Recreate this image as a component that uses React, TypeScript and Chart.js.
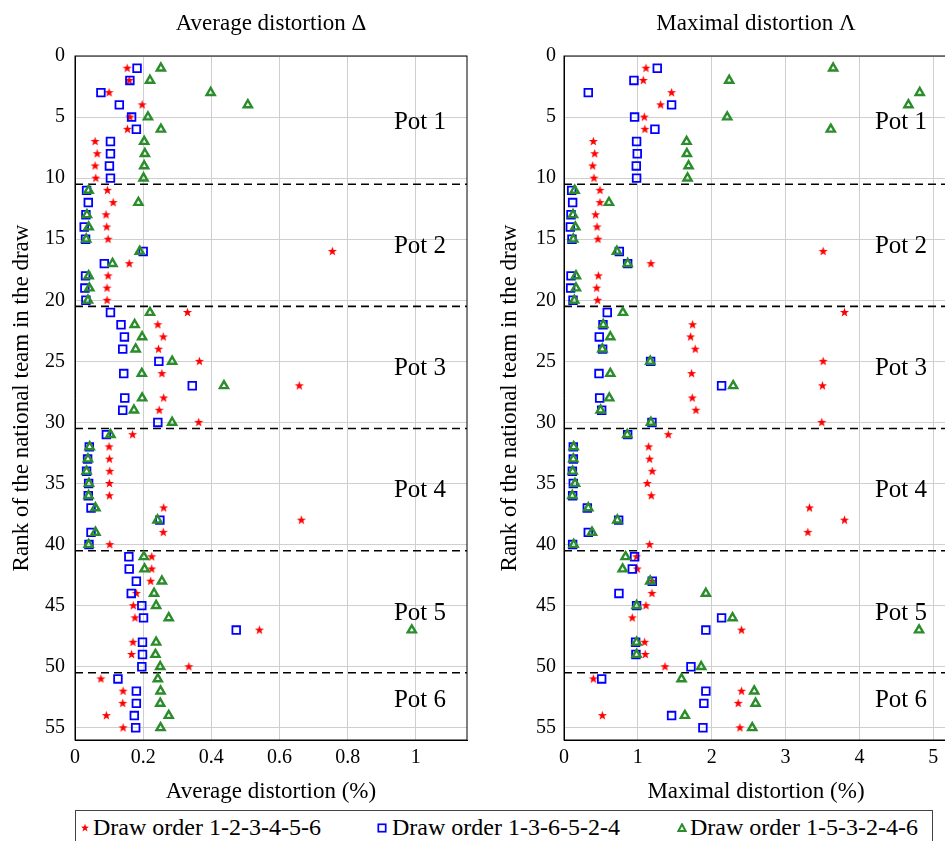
import React, { useEffect, useRef } from 'react';
import { Chart, registerables } from 'chart.js';

Chart.register(...registerables);

// ---------- data ----------
const ranks = [
  1, 2, 3, 4, 5, 6, 7, 8, 9, 10, 11, 12, 13, 14, 15, 16, 17, 18, 19, 20,
  21, 22, 23, 24, 25, 26, 27, 28, 29, 30, 31, 32, 33, 34, 35, 36, 37, 38, 39, 40,
  41, 42, 43, 44, 45, 46, 47, 48, 49, 50, 51, 52, 53, 54, 55,
];

const seriesLabels = ['Draw order 1-2-3-4-5-6', 'Draw order 1-3-6-5-2-4', 'Draw order 1-5-3-2-4-6'];

// Average distortion (%)
const avgOrder123456 = [
  0.153, 0.159, 0.100, 0.197, 0.161, 0.154, 0.059, 0.065, 0.059, 0.061,
  0.095, 0.112, 0.091, 0.093, 0.097, 0.755, 0.159, 0.097, 0.094, 0.094,
  0.330, 0.243, 0.259, 0.245, 0.365, 0.255, 0.658, 0.260, 0.247, 0.363,
  0.169, 0.100, 0.101, 0.102, 0.101, 0.101, 0.260, 0.664, 0.259, 0.102,
  0.225, 0.225, 0.222, 0.180, 0.171, 0.176, 0.541, 0.170, 0.166, 0.334,
  0.076, 0.141, 0.140, 0.092, 0.141,
];
const avgOrder136524 = [
  0.182, 0.161, 0.076, 0.130, 0.166, 0.180, 0.104, 0.104, 0.101, 0.104,
  0.034, 0.039, 0.032, 0.027, 0.031, 0.200, 0.086, 0.031, 0.029, 0.032,
  0.104, 0.135, 0.145, 0.140, 0.246, 0.143, 0.344, 0.146, 0.140, 0.243,
  0.092, 0.042, 0.037, 0.034, 0.040, 0.039, 0.047, 0.249, 0.047, 0.041,
  0.158, 0.159, 0.180, 0.165, 0.196, 0.201, 0.473, 0.198, 0.198, 0.196,
  0.126, 0.180, 0.180, 0.174, 0.178,
];
const avgOrder153246 = [
  0.252, 0.220, 0.398, 0.507, 0.214, 0.252, 0.203, 0.205, 0.203, 0.201,
  0.040, 0.186, 0.035, 0.040, 0.033, 0.190, 0.110, 0.040, 0.042, 0.038,
  0.220, 0.175, 0.197, 0.178, 0.285, 0.196, 0.437, 0.197, 0.173, 0.285,
  0.104, 0.043, 0.038, 0.034, 0.041, 0.040, 0.060, 0.242, 0.060, 0.040,
  0.202, 0.204, 0.255, 0.232, 0.238, 0.275, 0.988, 0.238, 0.236, 0.250,
  0.243, 0.251, 0.250, 0.275, 0.251,
];

// Maximal distortion (%)
const maxOrder123456 = [
  1.110, 1.074, 1.457, 1.308, 1.087, 1.096, 0.397, 0.415, 0.388, 0.406,
  0.487, 0.487, 0.428, 0.447, 0.460, 3.509, 1.177, 0.465, 0.442, 0.456,
  3.798, 1.741, 1.714, 1.777, 3.509, 1.728, 3.500, 1.737, 1.786, 3.491,
  1.412, 1.146, 1.159, 1.195, 1.128, 1.182, 3.324, 3.798, 3.302, 1.159,
  0.983, 0.992, 1.195, 1.191, 1.110, 0.925, 2.404, 1.092, 1.101, 1.367,
  0.397, 2.404, 2.359, 0.519, 2.382,
];
const maxOrder136524 = [
  1.263, 0.947, 0.329, 1.457, 0.956, 1.231, 0.983, 0.992, 0.979, 0.983,
  0.104, 0.117, 0.095, 0.086, 0.108, 0.749, 0.862, 0.095, 0.090, 0.122,
  0.586, 0.528, 0.478, 0.523, 1.173, 0.474, 2.134, 0.483, 0.510, 1.191,
  0.862, 0.126, 0.126, 0.113, 0.126, 0.117, 0.316, 0.740, 0.329, 0.117,
  0.956, 0.925, 1.195, 0.744, 0.983, 2.134, 1.921, 0.970, 0.974, 1.719,
  0.510, 1.921, 1.894, 1.457, 1.881,
];
const maxOrder153246 = [
  3.645, 2.237, 4.817, 4.664, 2.210, 3.613, 1.660, 1.664, 1.687, 1.673,
  0.144, 0.609, 0.122, 0.153, 0.126, 0.717, 0.862, 0.162, 0.162, 0.140,
  0.798, 0.532, 0.627, 0.519, 1.168, 0.627, 2.291, 0.613, 0.496, 1.177,
  0.857, 0.131, 0.126, 0.117, 0.149, 0.113, 0.329, 0.722, 0.379, 0.131,
  0.834, 0.794, 1.168, 1.921, 0.983, 2.282, 4.808, 0.983, 0.983, 1.858,
  1.592, 2.576, 2.594, 1.637, 2.549,
];

const potLabels = ['Pot 1', 'Pot 2', 'Pot 3', 'Pot 4', 'Pot 5', 'Pot 6'];
const potLabelRanks = [5.4, 15.6, 25.6, 35.6, 45.6, 52.8];
const potBoundaries = [10.5, 20.5, 30.5, 40.5, 50.5];

// ---------- styles ----------
const FONT = "'Liberation Serif', 'Times New Roman', serif";
const RED = '#ff0000';
const BLUE = '#0000ff';
const GREEN = '#2a8c2a';
const GRID = '#cfcfcf';

function makeStar(): HTMLCanvasElement {
  const c = document.createElement('canvas');
  c.width = 11;
  c.height = 11;
  const ctx = c.getContext('2d')!;
  ctx.fillStyle = RED;
  ctx.beginPath();
  for (let i = 0; i < 10; i++) {
    const r = i % 2 === 0 ? 4.8 : 2.0;
    const a = -Math.PI / 2 + (i * Math.PI) / 5;
    const px = 5.5 + r * Math.cos(a);
    const py = 5.5 + r * Math.sin(a);
    if (i === 0) ctx.moveTo(px, py);
    else ctx.lineTo(px, py);
  }
  ctx.closePath();
  ctx.fill();
  return c;
}

const potPlugin = {
  id: 'pots',
  beforeDatasetsDraw(chart: any) {
    const { ctx, chartArea: a, scales } = chart;
    const y = scales.y;
    ctx.save();
    ctx.strokeStyle = '#000';
    ctx.lineWidth = 1.6;
    ctx.setLineDash([8, 5]);
    potBoundaries.forEach((v) => {
      const py = y.getPixelForValue(v);
      ctx.beginPath();
      ctx.moveTo(a.left, py);
      ctx.lineTo(a.right, py);
      ctx.stroke();
    });
    ctx.setLineDash([]);
    ctx.font = `25px ${FONT}`;
    ctx.fillStyle = '#000';
    ctx.textAlign = 'right';
    ctx.textBaseline = 'middle';
    potLabels.forEach((t, i) => ctx.fillText(t, a.right - 21, y.getPixelForValue(potLabelRanks[i])));
    ctx.strokeStyle = '#000';
    ctx.lineWidth = 1;
    ctx.strokeRect(a.left, a.top, a.right - a.left, a.bottom - a.top);
    ctx.restore();
  },
};

function buildDatasets(s1: number[], s2: number[], s3: number[], star: HTMLCanvasElement) {
  return [
    {
      label: seriesLabels[0],
      data: ranks.map((r, i) => ({ x: s1[i], y: r })),
      pointStyle: star as any,
      pointRadius: 5,
      backgroundColor: RED,
      borderColor: RED,
      order: 3,
    },
    {
      label: seriesLabels[1],
      data: ranks.map((r, i) => ({ x: s2[i], y: r })),
      pointStyle: 'rect',
      pointRadius: 5.4,
      backgroundColor: 'rgba(0,0,0,0)',
      borderColor: BLUE,
      borderWidth: 1.8,
      order: 2,
    },
    {
      label: seriesLabels[2],
      data: ranks.map((r, i) => ({ x: s3[i], y: r })),
      pointStyle: 'triangle',
      pointRadius: 4.7,
      backgroundColor: 'rgba(0,0,0,0)',
      borderColor: GREEN,
      borderWidth: 2.4,
      order: 1,
    },
  ];
}

function panelOptions(p: {
  title: string;
  xTitle: string;
  xMax: number;
  xStep: number;
  yWidth: number;
  yTickPad: number;
  yTitlePad: number;
  padRight: number;
}) {
  const tickFont = { family: FONT, size: 20 };
  return {
    responsive: false,
    animation: false as const,
    events: [] as any[],
    layout: { padding: { left: 0, right: p.padRight, top: 0, bottom: 0 } },
    plugins: {
      legend: { display: false },
      tooltip: { enabled: false },
      title: {
        display: true,
        fullSize: false,
        text: p.title,
        color: '#000',
        font: { family: FONT, size: 23, weight: 'normal' as const, lineHeight: 1.2 },
        padding: { top: 10, bottom: 18.4 },
      },
    },
    scales: {
      x: {
        type: 'linear' as const,
        position: 'bottom' as const,
        min: 0,
        max: p.xMax,
        ticks: {
          stepSize: p.xStep,
          includeBounds: false,
          padding: 6,
          color: '#000',
          font: tickFont,
          maxRotation: 0,
          callback: (v: any) => String(Math.round(Number(v) * 10) / 10),
        },
        grid: { color: GRID, lineWidth: 1, drawTicks: false },
        border: { color: '#000', width: 1 },
        title: {
          display: true,
          text: p.xTitle,
          color: '#000',
          font: { family: FONT, size: 23, lineHeight: 1.2 },
          padding: { top: 0, bottom: 2 },
        },
        afterFit: (s: any) => {
          s.height = 68;
        },
      },
      y: {
        type: 'linear' as const,
        min: 0,
        max: 56,
        reverse: true,
        ticks: {
          stepSize: 5,
          includeBounds: false,
          padding: p.yTickPad,
          color: '#000',
          font: tickFont,
        },
        grid: { color: GRID, lineWidth: 1, drawTicks: false },
        border: { color: '#000', width: 1 },
        title: {
          display: true,
          text: 'Rank of the national team in the draw',
          color: '#000',
          font: { family: FONT, size: 23, lineHeight: 1.2 },
          padding: { top: p.yTitlePad, bottom: 0 },
        },
        afterFit: (s: any) => {
          s.width = p.yWidth;
        },
      },
    },
  };
}

function Panel(props: {
  left: number;
  width: number;
  title: string;
  xTitle: string;
  xMax: number;
  xStep: number;
  yWidth: number;
  yTickPad: number;
  yTitlePad: number;
  padRight: number;
  s1: number[];
  s2: number[];
  s3: number[];
}) {
  const ref = useRef<HTMLCanvasElement | null>(null);
  useEffect(() => {
    if (!ref.current) return;
    const star = makeStar();
    const chart = new Chart(ref.current, {
      type: 'scatter',
      data: { datasets: buildDatasets(props.s1, props.s2, props.s3, star) as any },
      options: panelOptions(props) as any,
      plugins: [potPlugin],
    });
    return () => chart.destroy();
  }, []);
  return (
    <canvas
      ref={ref}
      width={props.width}
      height={808}
      style={{ position: 'absolute', left: props.left, top: 0, width: props.width, height: 808 }}
    />
  );
}

function StarIcon() {
  const pts: string[] = [];
  for (let i = 0; i < 10; i++) {
    const r = i % 2 === 0 ? 4.2 : 1.7;
    const a = -Math.PI / 2 + (i * Math.PI) / 5;
    pts.push(`${(5 + r * Math.cos(a)).toFixed(2)},${(5 + r * Math.sin(a)).toFixed(2)}`);
  }
  return (
    <svg width={10} height={10} style={{ display: 'block' }}>
      <polygon points={pts.join(' ')} fill={RED} />
    </svg>
  );
}

function SquareIcon() {
  return (
    <svg width={10} height={10} style={{ display: 'block' }}>
      <rect x={1.3} y={1.3} width={7.4} height={7.4} fill="none" stroke={BLUE} strokeWidth={1.7} />
    </svg>
  );
}

function TriangleIcon() {
  return (
    <svg width={10} height={10} style={{ display: 'block' }}>
      <polygon points="5,1.3 8.6,8 1.4,8" fill="none" stroke={GREEN} strokeWidth={2} />
    </svg>
  );
}

const legendItems = [
  { icon: <StarIcon />, iconX: 4, textX: 17 },
  { icon: <SquareIcon />, iconX: 301, textX: 316 },
  { icon: <TriangleIcon />, iconX: 601, textX: 614 },
];

export default function App() {
  return (
    <div
      style={{
        position: 'fixed',
        left: 0,
        top: 0,
        width: 945,
        height: 841,
        overflow: 'hidden',
        background: '#fff',
      }}
    >
      <Panel
        left={0}
        width={480}
        title="Average distortion Δ"
        xTitle="Average distortion (%)"
        xMax={1.15}
        xStep={0.2}
        yWidth={75}
        yTickPad={10}
        yTitlePad={8}
        padRight={13}
        s1={avgOrder123456}
        s2={avgOrder136524}
        s3={avgOrder153246}
      />
      <Panel
        left={490}
        width={470}
        title="Maximal distortion Λ"
        xTitle="Maximal distortion (%)"
        xMax={5.2}
        xStep={1}
        yWidth={74}
        yTickPad={8}
        yTitlePad={6}
        padRight={12}
        s1={maxOrder123456}
        s2={maxOrder136524}
        s3={maxOrder153246}
      />
      <div
        style={{
          position: 'absolute',
          left: 75,
          top: 810,
          width: 858,
          height: 40,
          border: '1px solid #444',
          boxSizing: 'border-box',
          fontFamily: FONT,
          fontSize: 24,
          lineHeight: '26px',
          color: '#000',
        }}
      >
        {legendItems.map((it, i) => (
          <React.Fragment key={i}>
            <div style={{ position: 'absolute', left: it.iconX, top: 12 }}>{it.icon}</div>
            <div style={{ position: 'absolute', left: it.textX, top: 3, whiteSpace: 'nowrap' }}>
              {seriesLabels[i]}
            </div>
          </React.Fragment>
        ))}
      </div>
    </div>
  );
}
